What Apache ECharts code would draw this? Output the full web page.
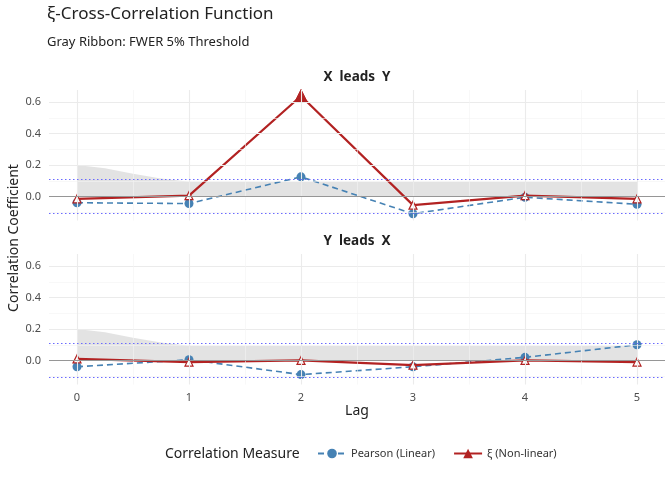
<!DOCTYPE html>
<html><head><meta charset="utf-8">
<script src="https://cdn.jsdelivr.net/npm/echarts@6/dist/echarts.min.js"></script>
<style>html,body{margin:0;background:#fff}#c{width:672px;height:480px}</style>
</head><body><div id="c"></div>
<script>
var lags = [0, 1, 2, 3, 4, 5];
var xiXY = [-0.015, 0.005, 0.64, -0.055, 0.005, -0.015];
var pearsonXY = [-0.04, -0.045, 0.125, -0.11, -0.005, -0.05];
var xiYX = [0.01, -0.01, 0.0, -0.03, 0.0, -0.01];
var pearsonYX = [-0.04, 0.005, -0.09, -0.04, 0.02, 0.10];
var xiSignifXY = [false, false, true, false, false, false];
var xiSignifYX = [false, false, false, false, false, false];
// FWER ribbon upper edge (lag, value)
var ribbon = [[0, 0.2], [0.25, 0.18], [0.5, 0.145], [0.75, 0.115], [1, 0.093], [5, 0.093]];
var threshold = 0.113;
var yTicks = [0, 0.2, 0.4, 0.6];
var yMinor = [-0.1, 0.1, 0.3, 0.5];
var xMinor = [0.5, 1.5, 2.5, 3.5, 4.5];

var chart = echarts.init(document.getElementById('c'));
var FONT = 'Noto Sans';
var red = '#b22222', blue = '#4682b4';

function gridLines() {
  var d = [];
  yTicks.forEach(function (v) { d.push({ yAxis: v, lineStyle: { color: '#ebebeb', width: 1.1, type: 'solid' } }); });
  yMinor.forEach(function (v) { d.push({ yAxis: v, lineStyle: { color: '#f3f3f3', width: 0.6, type: 'solid' } }); });
  lags.forEach(function (v) { d.push({ xAxis: v, lineStyle: { color: '#ebebeb', width: 1.1, type: 'solid' } }); });
  xMinor.forEach(function (v) { d.push({ xAxis: v, lineStyle: { color: '#f3f3f3', width: 0.6, type: 'solid' } }); });
  d.push({ yAxis: 0, lineStyle: { color: '#808080', width: 0.8, type: 'solid' } });
  return d;
}

function panelSeries(idx, xi, pe, sig) {
  return [
    { type: 'line', xAxisIndex: idx, yAxisIndex: idx, data: ribbon, symbol: 'none', silent: true,
      lineStyle: { width: 0 }, areaStyle: { color: '#d9d9d9', opacity: 0.75 }, z: 1,
      markLine: { silent: true, symbol: 'none', label: { show: false }, data: gridLines() } },
    { type: 'line', xAxisIndex: idx, yAxisIndex: idx, data: [], silent: true, z: 2,
      markLine: { silent: true, symbol: 'none', label: { show: false },
        lineStyle: { color: '#6a6aff', width: 1.2, type: [1.5, 2.5], opacity: 1 },
        data: [{ yAxis: threshold }, { yAxis: -threshold }] } },
    { name: 'Pearson (Linear)', type: 'line', xAxisIndex: idx, yAxisIndex: idx,
      data: lags.map(function (l, i) { return [l, pe[i]]; }),
      symbol: 'circle', symbolSize: 9, itemStyle: { color: blue },
      lineStyle: { color: blue, width: 1.6, type: [6, 4] }, z: 3 },
    { name: 'ξ (Non-linear)', type: 'line', xAxisIndex: idx, yAxisIndex: idx,
      data: lags.map(function (l, i) {
        return sig[i]
          ? { value: [l, xi[i]], symbolSize: 13, itemStyle: { color: red, borderColor: red } }
          : { value: [l, xi[i]], symbolSize: 8, itemStyle: { color: '#fff', borderColor: red, borderWidth: 1.2 } };
      }),
      symbol: 'triangle', itemStyle: { color: red }, lineStyle: { color: red, width: 2.2 }, z: 4 }
  ];
}

function xAx(idx, labels) {
  return { type: 'value', gridIndex: idx, min: -0.25, max: 5.25, splitLine: { show: false },
    axisLine: { show: false }, axisTick: { show: false },
    axisLabel: { show: labels, customValues: lags, color: '#4d4d4d', fontSize: 11, fontFamily: FONT, margin: 8 } };
}
function yAx(idx) {
  return { type: 'value', gridIndex: idx, min: -0.153, max: 0.678, splitLine: { show: false },
    axisLine: { show: false }, axisTick: { show: false },
    axisLabel: { customValues: yTicks, color: '#4d4d4d', fontSize: 11, fontFamily: FONT, margin: 8,
      formatter: function (v) { return v.toFixed(1); } } };
}

chart.setOption({
  animation: false,
  grid: [
    { left: 49, right: 7, top: 90, height: 130.5 },
    { left: 49, right: 7, top: 254, height: 130.5 }
  ],
  xAxis: [xAx(0, false), xAx(1, true)],
  yAxis: [yAx(0), yAx(1)],
  legend: {
    bottom: 16, left: 312, itemGap: 18, itemWidth: 28, itemHeight: 12,
    textStyle: { fontFamily: FONT, fontSize: 11, color: '#333' },
    data: [
      { name: 'Pearson (Linear)' },
      { name: 'ξ (Non-linear)', itemStyle: { color: red, borderColor: red } }
    ]
  },
  graphic: [
    { type: 'text', left: 47, top: 6, style: { text: 'ξ-Cross-Correlation Function', font: '17px ' + FONT, fill: '#222' } },
    { type: 'text', left: 47, top: 36, style: { text: 'Gray Ribbon: FWER 5% Threshold', font: '13px ' + FONT, fill: '#222' } },
    { type: 'text', x: 357, y: 77, style: { text: 'X  leads  Y', font: 'bold 13.5px ' + FONT, fill: '#222', align: 'center', verticalAlign: 'middle' } },
    { type: 'text', x: 357, y: 241, style: { text: 'Y  leads  X', font: 'bold 13.5px ' + FONT, fill: '#222', align: 'center', verticalAlign: 'middle' } },
    { type: 'text', x: 14, y: 238, rotation: Math.PI / 2, style: { text: 'Correlation Coefficient', font: '14px ' + FONT, fill: '#222', align: 'center', verticalAlign: 'middle' } },
    { type: 'text', x: 357, y: 411, style: { text: 'Lag', font: '14px ' + FONT, fill: '#222', align: 'center', verticalAlign: 'middle' } },
    { type: 'text', x: 165, y: 454, style: { text: 'Correlation Measure', font: '14px ' + FONT, fill: '#222', verticalAlign: 'middle' } }
  ],
  series: panelSeries(0, xiXY, pearsonXY, xiSignifXY).concat(panelSeries(1, xiYX, pearsonYX, xiSignifYX))
});
</script></body></html>
